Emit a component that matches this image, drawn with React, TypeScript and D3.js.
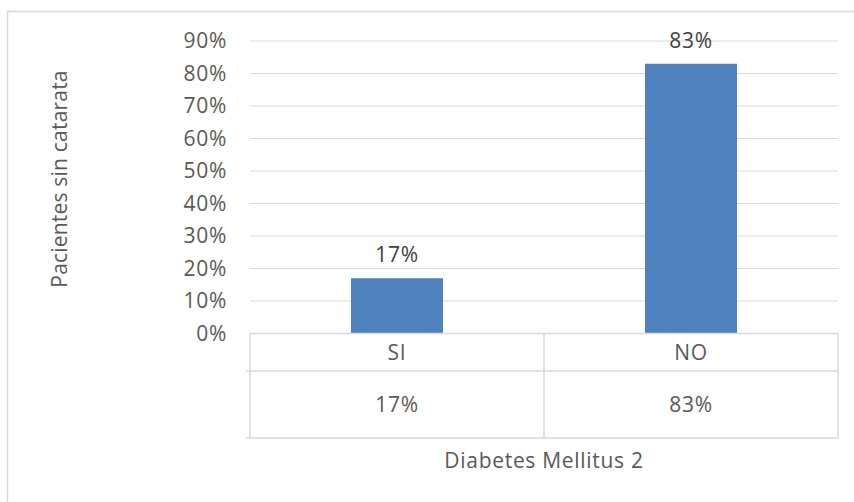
import React from "react";
import * as d3 from "d3";

const categories = ["SI", "NO"];
const values = [0.17, 0.83];
const tickValues = [0, 0.1, 0.2, 0.3, 0.4, 0.5, 0.6, 0.7, 0.8, 0.9];
const yTitle = "Pacientes sin catarata";
const xTitle = "Diabetes Mellitus 2";

export default function App() {
  const W = 854, H = 502;
  const left = 250, right = 838, top = 41, bottom = 333.5;
  const row1 = 371, row2 = 438;
  const font = "'Open Sans', sans-serif";
  const txt = "#595959";
  const grid = "#d9d9d9";
  const fs = 21;
  const ls = 0.7;

  const y = d3.scaleLinear().domain([0, 0.9]).range([bottom, top]);
  const x = d3.scaleBand<string>().domain(categories).range([left, right]).padding(0);
  const barW = x.bandwidth() * 0.313;
  const fmt = d3.format(".0%");

  return (
    <svg width={W} height={H} style={{ position: "absolute", left: 0, top: 0, background: "#fff" }}>
      <rect x={7.5} y={11.5} width={900} height={600} fill="#fff" stroke={grid} strokeWidth={1.5} />
      {tickValues.map((t) => (
        <g key={t}>
          {t > 0 && (
            <line x1={left} x2={right} y1={y(t)} y2={y(t)} stroke={grid} strokeWidth={1.2} />
          )}
          <text x={227} y={y(t)} dy="0.35em" textAnchor="end" fontFamily={font} fontSize={fs} letterSpacing={ls} fill={txt}>
            {fmt(t)}
          </text>
        </g>
      ))}
      {categories.map((c, i) => {
        const cx = (x(c) as number) + x.bandwidth() / 2;
        return (
          <g key={c}>
            <rect x={cx - barW / 2} y={y(values[i])} width={barW} height={bottom - y(values[i])} fill="#4f81bd" />
            <text x={cx} y={y(values[i]) - 16} textAnchor="middle" fontFamily={font} fontSize={fs} letterSpacing={ls} fill="#404040">
              {fmt(values[i])}
            </text>
            <text x={cx} y={(bottom + row1) / 2} dy="0.35em" textAnchor="middle" fontFamily={font} fontSize={fs} letterSpacing={ls} fill={txt}>
              {c}
            </text>
            <text x={cx} y={(row1 + row2) / 2} dy="0.35em" textAnchor="middle" fontFamily={font} fontSize={fs} letterSpacing={ls} fill={txt}>
              {fmt(values[i])}
            </text>
          </g>
        );
      })}
      <g stroke={grid} strokeWidth={1.5} fill="none">
        <line x1={left} x2={right} y1={bottom} y2={bottom} />
        <line x1={246} x2={right} y1={row1} y2={row1} />
        <line x1={246} x2={right} y1={row2} y2={row2} />
        <line x1={left} x2={left} y1={bottom} y2={row2} />
        {categories.slice(1).map((c) => (
          <line key={c} x1={x(c)} x2={x(c)} y1={bottom} y2={row2} />
        ))}
        <line x1={right} x2={right} y1={bottom} y2={row2} />
      </g>
      <text x={544} y={461} dy="0.35em" textAnchor="middle" fontFamily={font} fontSize={fs} letterSpacing={ls} fill={txt}>
        {xTitle}
      </text>
      <text
        transform={`translate(60,179) rotate(-90)`}
        textAnchor="middle"
        dy="0.35em"
        fontFamily={font}
        fontSize={fs}
        letterSpacing={0.2}
        fill={txt}
      >
        {yTitle}
      </text>
    </svg>
  );
}
